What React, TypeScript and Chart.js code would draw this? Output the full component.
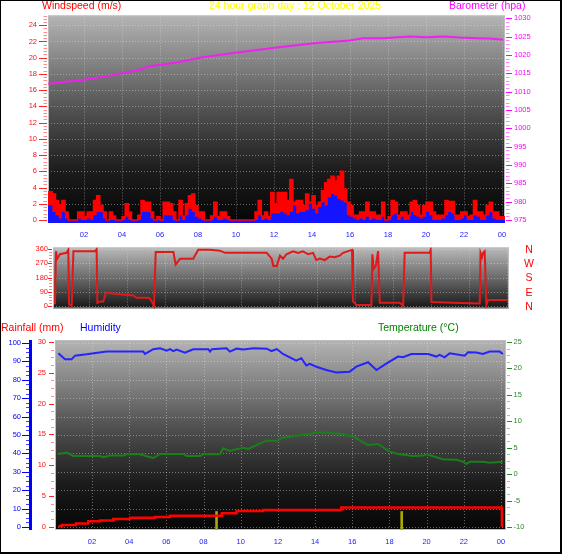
import React, { useEffect, useRef } from "react";
import { Chart, registerables } from "chart.js";

Chart.register(...registerables);

const FONT = "'Liberation Sans', Arial, Helvetica, sans-serif";
Chart.defaults.font.family = FONT;

// ---------- text ----------
const TITLE = "24 hour graph day : 12 October 2025";
const WIND_LABEL = "Windspeed (m/s)";
const BARO_LABEL = "Barometer (hpa)";
const RAIN_LABEL = "Rainfall (mm)";
const HUM_LABEL = "Humidity";
const TEMP_LABEL = "Temperature (°C)";

// ---------- ticks ----------
const HOUR_TICKS = [2, 4, 6, 8, 10, 12, 14, 16, 18, 20, 22, 24];
const HOUR_LABELS = ["02", "04", "06", "08", "10", "12", "14", "16", "18", "20", "22", "00"];
const WIND_TICKS = [0, 2, 4, 6, 8, 10, 12, 14, 16, 18, 20, 22, 24];
const BARO_TICKS = [975, 980, 985, 990, 995, 1000, 1005, 1010, 1015, 1020, 1025, 1030];
const DIR_TICKS = [0, 90, 180, 270, 360];
const DIR_LETTERS = ["N", "E", "S", "W", "N"];
const RAIN_TICKS = [0, 5, 10, 15, 20, 25, 30];
const HUM_TICKS = [0, 10, 20, 30, 40, 50, 60, 70, 80, 90, 100];
const TEMP_TICKS = [-10, -5, 0, 5, 10, 15, 20, 25];

// ---------- wind (10-minute samples from 00:00) ----------
const WIND_FIRST_HOUR = 0;
const WIND_INTERVAL_HOURS = 1 / 6;
const windGust = [
  3.5, 3.5, 3.2, 2.4, 1.9, 2.4, 1.0, 0, 0, 0, 1.0, 1.0,
  0.4, 1.0, 1.0, 2.4, 3.0, 1.8, 1.0, 0, 1.0, 0.5, 0, 0,
  0.4, 2.0, 1.0, 0, 0, 0.6, 2.4, 2.2, 2.2, 1.0, 0, 0.4,
  0, 2.2, 2.2, 2.0, 1.0, 0, 2.4, 0.5, 2.0, 3.0, 3.2, 1.8,
  1.0, 1.0, 0, 0, 0.5, 2.2, 0.4, 1.0, 1.0, 0.4, 0, 0,
  0, 0, 0, 0, 0, 0, 1.0, 2.4, 0.5, 1.0, 0.4, 3.4,
  2.0, 3.4, 3.4, 3.4, 2.4, 5.0, 2.2, 2.4, 2.4, 1.8, 3.2, 2.2,
  3.0, 1.8, 2.2, 3.6, 4.6, 5.0, 5.4, 4.8, 5.4, 6.0, 3.8, 2.2,
  1.8, 0.6, 0.6, 1.0, 1.0, 2.2, 1.0, 1.0, 0.6, 0.6, 2.2, 0,
  0.4, 2.4, 2.2, 0.6, 1.0, 1.0, 0.6, 2.2, 2.4, 1.8, 0.6, 1.8,
  2.2, 2.2, 1.0, 0.6, 0.6, 0.6, 2.4, 2.3, 2.3, 0.6, 0.6, 1.0,
  1.0, 0.4, 0.6, 2.4, 1.0, 1.0, 0.6, 1.8, 2.2, 1.0, 1.0, 0.4,
  0.4, 0,
];
const windAvg = [
  1.8, 1.8, 1.0, 0.6, 0.2, 1.0, 0.2, 0, 0, 0, 0.2, 0,
  0, 0.2, 0, 0.6, 1.0, 1.0, 0.2, 0, 0, 0, 0, 0,
  0, 0.4, 0, 0, 0, 0, 1.0, 1.0, 1.0, 0.2, 0, 0,
  0, 0.6, 0.6, 0.6, 0, 0, 0.6, 0, 0.6, 1.4, 1.0, 0.4,
  0.2, 0, 0, 0, 0, 0.4, 0, 0, 0.2, 0, 0, 0,
  0, 0, 0, 0, 0, 0, 0, 0.6, 0, 0.2, 0, 0.8,
  0.8, 0.8, 1.0, 0.8, 0.6, 1.0, 1.8, 0.8, 1.0, 1.0, 1.2, 2.0,
  1.4, 0.8, 1.6, 2.2, 1.8, 2.8, 3.2, 3.0, 2.6, 2.4, 2.2, 0.6,
  0.4, 0.2, 0, 0.2, 0, 0.4, 0, 0.2, 0, 0, 0.4, 0,
  0, 0.6, 0.8, 0, 0.4, 0, 0, 1.0, 0.6, 0.4, 0.2, 0.4,
  1.0, 0.6, 0, 0, 0, 0.2, 0.6, 1.0, 0.8, 0, 0, 0.2,
  0.6, 0, 0, 0.6, 0.4, 0, 0, 0.6, 1.0, 0.2, 0, 0,
  0, 0,
];

// ---------- barometer ----------
const baroHours = [0.12, 1.96, 3.37, 5.12, 5.3, 6.88, 8.1, 9.86, 12.14, 14.23, 15.98, 16.68, 17.74, 19.14, 20.02, 20.9, 21.77, 22.65, 23.35, 24.05];
const baroValues = [1012.2, 1013.3, 1014.4, 1016.2, 1016.8, 1018.0, 1019.3, 1020.6, 1022.1, 1023.3, 1024.0, 1024.6, 1024.6, 1025.1, 1024.9, 1025.1, 1024.8, 1024.6, 1024.5, 1024.2];

// ---------- wind direction ----------
const dirHours = [
  0.21, 0.26, 0.33, 0.47, 0.82, 0.91, 0.95, 1.09, 1.18, 2.32, 2.4, 2.44, 2.58, 2.75, 2.89, 3.46, 4.33, 4.51, 5.12, 5.21,
  5.3, 5.42, 5.51, 6.44, 6.56, 6.79, 7.49, 7.54, 7.75, 8.37, 8.89, 9.16, 11.35, 11.61, 11.7, 11.88, 12.05, 12.21, 12.39, 12.74,
  13.0, 13.26, 13.53, 13.79, 13.96, 14.14, 14.4, 14.67, 14.93, 15.19, 15.37, 15.72, 15.84, 15.89, 16.07, 16.86, 16.91, 16.98, 17.09, 17.21,
  17.3, 18.35, 18.53, 18.61, 19.93, 19.98, 20.02, 21.16, 22.56, 22.6, 22.68, 22.74, 22.82, 22.91, 23.0, 24.05,
];
const dirValues = [
  10, 347, 300, 328, 337, 356, 10, 0, 347, 347, 360, 19, 28, 28, 84, 75, 66, 51, 51, 47,
  28, 0, 343, 343, 262, 300, 300, 313, 356, 356, 351, 337, 337, 300, 253, 253, 319, 300, 328, 347,
  337, 347, 328, 337, 291, 300, 291, 313, 309, 319, 337, 351, 356, 28, 6, 6, 328, 234, 253, 347,
  19, 19, 0, 337, 337, 356, 24, 19, 15, 337, 309, 337, 347, 6, 37, 37,
];

// ---------- humidity ----------
const humHours = [
  0.19, 0.55, 0.9, 1.09, 1.71, 2.79, 4.76, 4.85, 5.3, 5.66, 6.02, 6.2, 6.37, 6.55, 7.0, 7.45, 8.26, 8.35, 8.45, 9.24,
  9.42, 9.78, 10.14, 10.68, 11.4, 11.66, 11.94, 12.27, 12.99, 13.26, 13.53, 13.71, 14.07, 14.6, 15.14, 15.86, 16.22, 16.85, 17.3, 17.83,
  18.46, 18.73, 19.18, 20.08, 20.52, 20.7, 20.97, 21.24, 22.05, 22.23, 22.67, 23.03, 23.39, 23.93, 24.1,
];
const humValues = [
  94.4, 91.1, 91.1, 93.1, 93.8, 95.3, 95.3, 94.0, 96.6, 97.1, 95.8, 96.6, 95.6, 96.4, 94.7, 96.6, 96.6, 95.3, 96.6, 97.1,
  95.3, 96.9, 96.4, 97.1, 96.9, 95.6, 96.7, 94.0, 90.4, 91.7, 87.7, 88.6, 87.1, 85.3, 83.9, 84.4, 87.1, 89.5, 85.3, 88.8,
  92.6, 92.2, 94.0, 94.0, 92.6, 93.5, 92.2, 94.4, 93.1, 95.0, 94.8, 94.0, 95.3, 95.3, 94.0,
];

// ---------- temperature ----------
const tempHours = [
  0.19, 0.64, 1.0, 2.43, 2.61, 2.97, 3.69, 3.87, 4.58, 4.94, 5.3, 5.66, 6.91, 7.1, 7.81, 7.99, 8.71, 8.89, 9.06, 9.42,
  9.78, 10.14, 10.41, 11.04, 11.4, 11.94, 12.27, 13.89, 14.25, 15.5, 16.13, 16.85, 17.39, 18.01, 18.46, 19.27, 19.8, 20.02, 20.34, 20.88,
  21.6, 21.96, 22.14, 22.32, 23.03, 23.39, 24.1,
];
const tempValues = [
  3.81, 4.06, 3.43, 3.43, 3.2, 3.5, 3.5, 3.75, 3.75, 3.37, 3.05, 3.81, 3.81, 3.43, 3.43, 3.75, 3.75, 3.81, 4.89, 4.38,
  4.7, 5.0, 4.76, 5.83, 6.33, 6.33, 6.9, 7.72, 7.9, 7.6, 6.97, 5.5, 5.7, 4.25, 3.8, 3.43, 3.5, 3.75, 3.37, 2.8,
  2.7, 2.36, 1.92, 2.36, 2.36, 2.17, 2.36,
];

// ---------- rainfall (cumulative, mm) ----------
const rainHours = [0.19, 0.37, 1.14, 1.8, 2.43, 3.15, 4.05, 5.39, 6.2, 8.98, 9.78, 11.2, 15.41, 24.04, 24.05];
const rainValues = [0.1, 0.3, 0.55, 0.9, 1.05, 1.3, 1.5, 1.6, 1.8, 2.2, 2.6, 2.75, 3.15, 3.15, 0];
const rainRateHours = [8.7, 18.66];
const rainRateValues = [2.5, 2.5];

// ---------- helpers ----------
type Stop = [number, string];

function pts(xs: number[], ys: number[]) {
  return xs.map((x, i) => ({ x, y: ys[i] }));
}
function windPts(vals: number[]) {
  return vals.map((y, i) => ({ x: WIND_FIRST_HOUR + i * WIND_INTERVAL_HOURS, y }));
}

function drawPanelBg(chart: any, stops: Stop[], gridScaleId: string, gridVals: number[]) {
  const { ctx, chartArea: a } = chart;
  ctx.save();
  const g = ctx.createLinearGradient(0, a.top, 0, a.bottom);
  for (const [o, c] of stops) g.addColorStop(o, c);
  ctx.fillStyle = g;
  ctx.fillRect(a.left, a.top, a.right - a.left, a.bottom - a.top);
  ctx.strokeStyle = "rgba(230,230,230,0.42)";
  ctx.lineWidth = 1;
  ctx.setLineDash([1, 2]);
  ctx.beginPath();
  const xs = chart.scales.x;
  for (const h of HOUR_TICKS) {
    const px = Math.round(xs.getPixelForValue(h)) + 0.5;
    if (px <= a.left + 1 || px >= a.right - 1) continue;
    ctx.moveTo(px, a.top);
    ctx.lineTo(px, a.bottom);
  }
  const ys = chart.scales[gridScaleId];
  for (const v of gridVals) {
    const py = Math.round(ys.getPixelForValue(v)) + 0.5;
    if (py <= a.top + 1 || py >= a.bottom - 1) continue;
    ctx.moveTo(a.left, py);
    ctx.lineTo(a.right, py);
  }
  ctx.stroke();
  ctx.setLineDash([]);
  ctx.strokeStyle = "#bdbdbd";
  ctx.strokeRect(a.left + 0.5, a.top + 0.5, a.right - a.left - 1, a.bottom - a.top - 1);
  ctx.restore();
}

function drawRuler(
  ctx: CanvasRenderingContext2D, scale: any, edgeX: number, dir: number,
  majors: number[], minorStep: number, majorLen: number, minorLen: number,
  majorColor: string, minorColor: string
) {
  ctx.save();
  ctx.lineWidth = 1;
  ctx.strokeStyle = minorColor;
  ctx.beginPath();
  const lo = Math.ceil(scale.min / minorStep) * minorStep;
  for (let v = lo; v <= scale.max + 1e-9; v += minorStep) {
    const py = Math.round(scale.getPixelForValue(v)) + 0.5;
    ctx.moveTo(edgeX, py);
    ctx.lineTo(edgeX + dir * minorLen, py);
  }
  ctx.stroke();
  ctx.strokeStyle = majorColor;
  ctx.beginPath();
  for (const v of majors) {
    const py = Math.round(scale.getPixelForValue(v)) + 0.5;
    ctx.moveTo(edgeX, py);
    ctx.lineTo(edgeX + dir * majorLen, py);
  }
  ctx.stroke();
  ctx.restore();
}

function text(ctx: CanvasRenderingContext2D, s: string, x: number, y: number, color: string, size: number, align: CanvasTextAlign = "left", baseline: CanvasTextBaseline = "alphabetic") {
  ctx.save();
  ctx.font = `${size}px ${FONT}`;
  ctx.fillStyle = color;
  ctx.textAlign = align;
  ctx.textBaseline = baseline;
  ctx.fillText(s, x, y);
  ctx.restore();
}

const TICK_FONT = { family: FONT, size: 7.5 };

function hourAxis(min: number, max: number, height: number, padding: number) {
  return {
    type: "linear",
    min,
    max,
    offset: false,
    grid: { display: false, drawTicks: false },
    border: { display: false },
    afterBuildTicks: (s: any) => { s.ticks = HOUR_TICKS.map((v) => ({ value: v })); },
    afterFit: (s: any) => { s.height = height; },
    ticks: {
      autoSkip: false,
      maxRotation: 0,
      padding,
      color: "#2020ff",
      font: TICK_FONT,
      callback: (_v: any, i: number) => HOUR_LABELS[i],
    },
  };
}

function valueAxis(position: string, min: number, max: number, ticks: number[], width: number, padding: number, color: string) {
  return {
    type: "linear",
    position,
    min,
    max,
    grid: { display: false, drawTicks: false },
    border: { display: false },
    afterBuildTicks: (s: any) => { s.ticks = ticks.map((v) => ({ value: v })); },
    afterFit: (s: any) => { s.width = width; },
    ticks: { color, font: TICK_FONT, padding, autoSkip: false, callback: (v: any) => String(v) },
  };
}

const BG_STOPS: Stop[] = [[0, "#b4b4b4"], [0.45, "#525252"], [0.75, "#1c1c1c"], [1, "#050505"]];
const BG_STOPS_DIR: Stop[] = [[0, "#bababa"], [0.5, "#6a6a6a"], [1, "#151515"]];

// ---------- panel configs ----------
function makeWindConfig(): any {
  return {
    type: "line",
    data: {
      datasets: [
        { label: "Barometer", data: pts(baroHours, baroValues), yAxisID: "yB", borderColor: "#f020f0", borderWidth: 2, pointRadius: 0, fill: false, tension: 0 },
        { label: "Gust edge", data: windPts(windGust), yAxisID: "yW", borderColor: "#ff0000", borderWidth: 1.5, pointRadius: 0, fill: false, stepped: true },
        { label: "Average", data: windPts(windAvg), yAxisID: "yW", borderColor: "transparent", borderWidth: 0, backgroundColor: "#1414ff", pointRadius: 0, fill: "start", stepped: true },
        { label: "Gust", data: windPts(windGust), yAxisID: "yW", borderColor: "transparent", borderWidth: 0, backgroundColor: "#ff0000", pointRadius: 0, fill: "origin", stepped: true },
      ],
    },
    options: {
      responsive: false,
      animation: false,
      layout: { padding: { top: 10, left: 0, right: 0, bottom: 0 } },
      plugins: { legend: { display: false }, tooltip: { enabled: false } },
      scales: {
        x: hourAxis(0.105, 24.16, 17, 7),
        yW: valueAxis("left", -0.36, 25.2, WIND_TICKS, 48, 11, "#ff1010"),
        yB: valueAxis("right", 974.2, 1030.8, BARO_TICKS, 57, 9, "#ff00ff"),
      },
    },
    plugins: [
      {
        id: "windDeco",
        beforeDraw(chart: any) {
          drawPanelBg(chart, BG_STOPS, "yW", WIND_TICKS);
        },
        afterDraw(chart: any) {
          const ctx = chart.ctx;
          drawRuler(ctx, chart.scales.yW, 47, -1, WIND_TICKS, 0.4, 8, 3.5, "#ff2020", "#ff8c8c");
          drawRuler(ctx, chart.scales.yB, 506, 1, BARO_TICKS, 1, 6, 3.5, "#ff00ff", "#ff80ff");
          text(ctx, WIND_LABEL, 42, 9, "#ff0000", 10.5);
          text(ctx, TITLE, 209, 9, "#ffff00", 10.5);
          text(ctx, BARO_LABEL, 449, 9, "#ff00ff", 10.5);
        },
      },
    ],
  };
}

function makeDirConfig(): any {
  return {
    type: "line",
    data: {
      datasets: [
        { label: "Wind direction", data: pts(dirHours, dirValues), yAxisID: "yD", borderColor: "#e01a1a", borderWidth: 2, pointRadius: 0, fill: false, tension: 0 },
      ],
    },
    options: {
      responsive: false,
      animation: false,
      layout: { padding: { top: 6, left: 0, right: 53, bottom: 5 } },
      plugins: { legend: { display: false }, tooltip: { enabled: false } },
      scales: {
        x: { type: "linear", display: false, min: 0.105, max: 24.1, offset: false },
        yD: valueAxis("left", -17, 371, DIR_TICKS, 53, 5, "#ff1010"),
      },
    },
    plugins: [
      {
        id: "dirDeco",
        beforeDraw(chart: any) {
          drawPanelBg(chart, BG_STOPS_DIR, "yD", DIR_TICKS);
        },
        afterDraw(chart: any) {
          const ctx = chart.ctx;
          const s = chart.scales.yD;
          drawRuler(ctx, s, 52, -1, DIR_TICKS, 18, 4, 3, "#ff2020", "#ff8c8c");
          DIR_TICKS.forEach((v, i) => {
            text(ctx, DIR_LETTERS[i], 529, s.getPixelForValue(v) + 1, "#ff0000", 10.5, "center", "middle");
          });
        },
      },
    ],
  };
}

function makeClimateConfig(): any {
  return {
    type: "line",
    data: {
      datasets: [
        { label: "Rainfall", data: pts(rainHours, rainValues), yAxisID: "yR", borderColor: "#ff0000", borderWidth: 2.5, pointRadius: 0, fill: false, stepped: true },
        { type: "bar", label: "Rain rate", data: pts(rainRateHours, rainRateValues), yAxisID: "yR", backgroundColor: "#a8a800", barThickness: 2, base: -0.5 },
        { label: "Temperature", data: pts(tempHours, tempValues), yAxisID: "yT", borderColor: "#1a7f1a", borderWidth: 2, pointRadius: 0, fill: false, tension: 0 },
        { label: "Humidity", data: pts(humHours, humValues), yAxisID: "yH", borderColor: "#2424ff", borderWidth: 2, pointRadius: 0, fill: false, tension: 0 },
      ],
    },
    options: {
      responsive: false,
      animation: false,
      layout: { padding: { top: 25, left: 0, right: 0, bottom: 0 } },
      plugins: { legend: { display: false }, tooltip: { enabled: false } },
      scales: {
        x: hourAxis(0.011, 24.27, 24, 7),
        yR: valueAxis("left", -0.5, 30.3, RAIN_TICKS, 55, 9, "#ff1010"),
        yH: { type: "linear", display: false, min: -1.63, max: 101.6 },
        yT: valueAxis("right", -10.57, 25.37, TEMP_TICKS, 56, 7.5, "#2a8a2a"),
      },
    },
    plugins: [
      {
        id: "climateDeco",
        beforeDraw(chart: any) {
          drawPanelBg(chart, BG_STOPS, "yH", HUM_TICKS);
        },
        afterDraw(chart: any) {
          const ctx = chart.ctx;
          const a = chart.chartArea;
          const h = chart.scales.yH;
          drawRuler(ctx, chart.scales.yR, 54, -1, RAIN_TICKS, 1.25, 5, 3, "#ff2020", "#ff8c8c");
          drawRuler(ctx, chart.scales.yT, 507, 1, TEMP_TICKS, 1.25, 5, 3, "#2a8a2a", "#90d090");
          // humidity axis
          ctx.save();
          ctx.fillStyle = "#0000ff";
          ctx.fillRect(29, a.top, 3, a.bottom - a.top);
          ctx.restore();
          drawRuler(ctx, h, 29, -1, HUM_TICKS, 2.5, 7, 3, "#0000ff", "#4040ff");
          HUM_TICKS.forEach((v) => {
            text(ctx, String(v), 21, h.getPixelForValue(v), "#0000ff", 7.5, "right", "middle");
          });
          text(ctx, RAIN_LABEL, 1, 16, "#ff0000", 10.5);
          text(ctx, HUM_LABEL, 80, 16, "#0000ff", 10.5);
          text(ctx, TEMP_LABEL, 378, 16, "#008000", 10.5);
        },
      },
    ],
  };
}

function ChartCanvas({ top, height, makeConfig }: { top: number; height: number; makeConfig: () => any }) {
  const ref = useRef<HTMLCanvasElement | null>(null);
  useEffect(() => {
    if (!ref.current) return;
    const chart = new Chart(ref.current, makeConfig());
    return () => chart.destroy();
  }, []);
  return (
    <canvas
      ref={ref}
      width={562}
      height={height}
      style={{ position: "absolute", left: 0, top, width: 562, height, display: "block" }}
    />
  );
}

export default function App() {
  return (
    <div style={{ position: "fixed", left: 0, top: 0, width: 562, height: 554, background: "#ffffff", overflow: "hidden" }}>
      <ChartCanvas top={0} height={240} makeConfig={makeWindConfig} />
      <ChartCanvas top={238} height={80} makeConfig={makeDirConfig} />
      <ChartCanvas top={315} height={239} makeConfig={makeClimateConfig} />
      <div
        style={{
          position: "absolute", left: 0, top: 0, width: 562, height: 554, boxSizing: "border-box",
          borderLeft: "1px solid #000", borderTop: "1px solid #000", borderRight: "2px solid #000", borderBottom: "2px solid #000",
          pointerEvents: "none",
        }}
      />
    </div>
  );
}
